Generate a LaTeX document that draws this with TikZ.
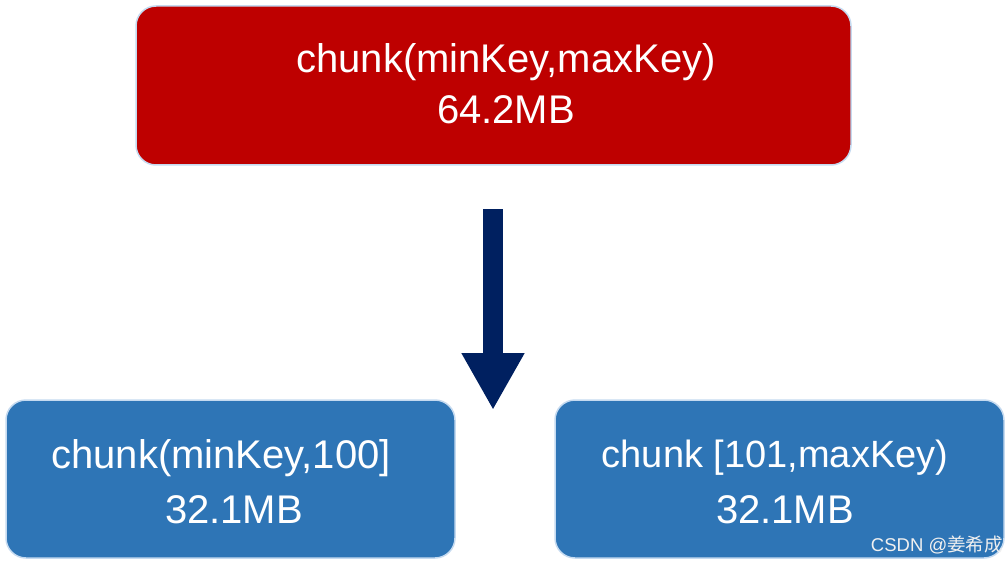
\documentclass[tikz,border=0pt]{standalone}
\usepackage{fontspec}
\setmainfont{Liberation Sans}
\newfontfamily\cjkfont{Noto Sans CJK SC}
\usetikzlibrary{arrows.meta}
\definecolor{boxred}{HTML}{BE0000}
\definecolor{boxblue}{HTML}{2E75B6}
\definecolor{navy}{HTML}{002060}
\definecolor{rim}{HTML}{C5DAF0}
\tikzset{
  chunkbox/.style={draw=rim, line width=1.5pt, rounded corners=20pt, inner sep=0pt},
  boxtext/.style={text=white, font=\fontsize{40}{48}\selectfont, inner sep=0pt, anchor=center},
  wmark/.style={text=white!88!gray, font=\fontsize{18.5}{20}\selectfont, inner sep=0pt, anchor=east}
}
\begin{document}
\begin{tikzpicture}[x=1pt,y=-1pt]
\useasboundingbox (0,0) rectangle (1008,564);
% boxes
\node[chunkbox, fill=boxred, minimum width=715pt, minimum height=159pt] (top) at (493.5,85.5) {};
\node[chunkbox, fill=boxblue, minimum width=449pt, minimum height=158pt] (left) at (230.5,479) {};
\node[chunkbox, fill=boxblue, minimum width=449pt, minimum height=158pt] (right) at (779.5,479) {};
% texts
\node[boxtext] (t1) at (506,62) {chunk(minKey,maxKey)};
\node[boxtext] (t2) at (506,110) {64.2MB};
\node[boxtext] (l1) at (221,458) {chunk(minKey,100]};
\node[boxtext] (l2) at (234,510) {32.1MB};
\node[boxtext, font=\fontsize{38}{46}\selectfont] (r1) at (775,458) {chunk [101,maxKey)};
\node[boxtext] (r2) at (785,510) {32.1MB};
% arrow
\coordinate (atop) at (493,209);
\coordinate (atip) at (493,410);
\draw[navy, line width=20pt, -{Triangle[width=59pt,length=57pt]}] (atop) -- (atip);
% watermark
\node[wmark] (wm) at (1003,545) {CSDN @{\cjkfont 姜希成}};
\end{tikzpicture}
\end{document}
